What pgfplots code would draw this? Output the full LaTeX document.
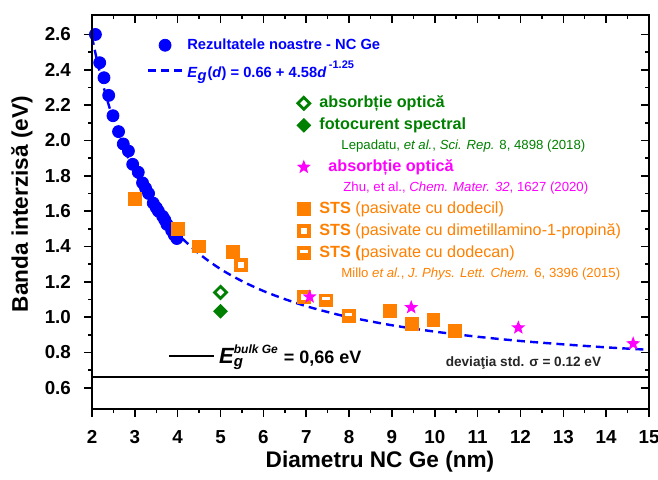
\documentclass[border=0pt]{standalone}
\usepackage{pgfplots}
\pgfplotsset{compat=1.18}
\usepackage{fontspec}
\setmainfont{Liberation Sans}
\definecolor{myblue}{RGB}{0,0,255}
\definecolor{myorange}{RGB}{255,128,0}
\definecolor{mygreen}{RGB}{0,128,0}
\definecolor{mymag}{RGB}{255,0,255}

\pgfdeclareplotmark{halfsq}{%
  \pgfpathrectangle{\pgfqpoint{-\pgfplotmarksize}{-\pgfplotmarksize}}{\pgfqpoint{2\pgfplotmarksize}{2\pgfplotmarksize}}%
  \pgfusepathqfillstroke
  \begin{pgfscope}%
  \pgfsetfillcolor{white}%
  \pgfpathrectangle{\pgfqpoint{-0.6\pgfplotmarksize}{0.05\pgfplotmarksize}}{\pgfqpoint{1.2\pgfplotmarksize}{0.4\pgfplotmarksize}}%
  \pgfusepathqfill
  \end{pgfscope}%
}
\pgfdeclareplotmark{fstar}{%
  \pgfpathmoveto{\pgfqpointpolar{90}{\pgfplotmarksize}}%
  \pgfpathlineto{\pgfqpointpolar{126}{0.42\pgfplotmarksize}}%
  \pgfpathlineto{\pgfqpointpolar{162}{\pgfplotmarksize}}%
  \pgfpathlineto{\pgfqpointpolar{198}{0.42\pgfplotmarksize}}%
  \pgfpathlineto{\pgfqpointpolar{234}{\pgfplotmarksize}}%
  \pgfpathlineto{\pgfqpointpolar{270}{0.42\pgfplotmarksize}}%
  \pgfpathlineto{\pgfqpointpolar{306}{\pgfplotmarksize}}%
  \pgfpathlineto{\pgfqpointpolar{342}{0.42\pgfplotmarksize}}%
  \pgfpathlineto{\pgfqpointpolar{18}{\pgfplotmarksize}}%
  \pgfpathlineto{\pgfqpointpolar{54}{0.42\pgfplotmarksize}}%
  \pgfpathclose
  \pgfusepathqfill
}

\pgfplotsset{
  base/.style={width=278.5pt, height=197pt, scale only axis,
    xmin=2, xmax=15, ymin=0.48, ymax=2.71},
  mleg/.style={legend image code/.code={%
    \draw[mark repeat=2,mark phase=2,##1] plot coordinates {(0cm,0cm) (0.3cm,0cm) (0.6cm,0cm)};}},
  mleg2/.style={legend image code/.code={%
    \path[draw=none, fill=none] (-3.3pt,-0.1pt) rectangle (5.8pt,0.1pt);
    \draw[##1] plot coordinates {(0pt,0pt)};}},
  bulkleg/.style={legend image code/.code={\draw[##1] (0pt,0pt) -- (22.5pt,0pt);}},
}

\begin{document}
\begin{tikzpicture}
% ---------- main axis: blue data and fit ----------
\begin{axis}[base,
  xtick={2,3,4,5,6,7,8,9,10,11,12,13,14,15},
  ytick={0.6,0.8,1.0,1.2,1.4,1.6,1.8,2.0,2.2,2.4,2.6},
  minor x tick num=1, minor y tick num=1,
  tick align=outside, xtick pos=bottom, ytick pos=left,
  major tick length=4pt, minor tick length=2pt,
  axis line style={line width=0.75pt},
  every tick/.style={black, line width=0.75pt},
  ticklabel style={font=\fontsize{9.4}{10}\selectfont\bfseries},
  xticklabel style={yshift=-3pt},
  /pgf/number format/assume math mode=true,
  yticklabel style={xshift=-3pt, /pgf/number format/.cd, fixed, fixed zerofill, precision=1},
  xlabel={Diametru NC Ge (nm)},
  ylabel={Banda interzisă (eV)},
  label style={font=\fontsize{11.3}{13}\selectfont\bfseries},
  xlabel style={at={(rel axis cs:0.517,0)}, anchor=center, yshift=-26.5pt},
  ylabel style={at={(rel axis cs:0,0.52)}, anchor=center, yshift=35pt},
  legend cell align=left,
  legend style={at={(axis cs:3.13,2.625)}, anchor=north west, draw=none, fill=none,
    font=\fontsize{7.35}{9}\selectfont\bfseries, text=myblue, row sep=0.2pt},
]
\coordinate (SW) at (rel axis cs:0,0);
\coordinate (NE) at (rel axis cs:1,1);
\addplot[myblue, line width=1.2pt, dash pattern=on 4pt off 2.6pt, smooth, forget plot] coordinates {
(2,2.586)(2.1,2.472)(2.2,2.369)(2.3,2.277)(2.4,2.193)(2.5,2.117)(2.6,2.047)(2.8,1.925)(3,1.820)(3.25,1.709)
(3.5,1.617)(3.75,1.538)(4,1.470)(4.5,1.359)(5,1.272)(5.5,1.204)(6,1.148)(6.5,1.102)
(7,1.062)(7.5,1.029)(8,1.000)(9,0.954)(10,0.918)(11,0.889)(12,0.865)(13,0.846)(14,0.829)(15,0.815)};
\addplot[only marks, mark=*, mark size=3pt, myblue, mleg] coordinates {
(2.08,2.60)(2.18,2.44)(2.28,2.355)(2.39,2.255)(2.49,2.14)(2.62,2.05)(2.73,1.98)(2.85,1.94)
(2.95,1.865)(3.08,1.82)(3.18,1.76)(3.25,1.73)(3.32,1.70)(3.43,1.645)(3.5,1.62)(3.55,1.60)
(3.65,1.57)(3.70,1.55)(3.75,1.525)(3.86,1.49)(3.92,1.465)(3.98,1.445)};
\addlegendentry{Rezultatele noastre - NC Ge}
\addlegendimage{myblue, line width=1.2pt, dash pattern=on 4pt off 2.6pt}
\addlegendentry{\textit{E}$_{\textit{g}}$(\textit{d}) = 0.66 + 4.58\textit{d}\,\raisebox{1.2ex}{\fontsize{5.5}{6}\selectfont -1.25}}
\end{axis}

% ---------- literature data ----------
\begin{axis}[base, hide axis,
  legend cell align=left,
  legend style={at={(axis cs:6.63,2.30)}, anchor=north west, draw=none, fill=none,
    font=\fontsize{8.1}{9.5}\selectfont\bfseries, row sep=-0.4pt},
]
\addplot[only marks, mark=square*, mark size=3.2pt, myorange, forget plot] coordinates {
(3.0,1.67)(4.0,1.50)(4.5,1.40)(5.29,1.37)(8.96,1.035)(9.47,0.962)(9.97,0.986)(10.47,0.924)};
\addplot[only marks, mark=square, mark size=2.5pt, line width=1.9pt, myorange, mark options={fill=white}, forget plot] coordinates {
(5.48,1.295)(6.94,1.115)};
\addplot[only marks, mark=halfsq, mark size=3.2pt, myorange, forget plot] coordinates {
(7.46,1.095)(7.99,1.005)};
\addplot[only marks, mark=square, mark size=2.1pt, line width=1.4pt, mygreen, mark options={rotate=45, fill=white}, forget plot] coordinates {(5.0,1.14)};
\addplot[only marks, mark=square*, mark size=2.4pt, mygreen, mark options={rotate=45}, forget plot] coordinates {(5.0,1.033)};
\addplot[only marks, mark=fstar, mark size=3.7pt, mymag, forget plot] coordinates {
(7.08,1.115)(9.45,1.055)(11.95,0.94)(14.63,0.85)};

\addlegendimage{only marks, mark=square, mark size=2.1pt, line width=1.4pt, mygreen, mark options={rotate=45, fill=white}, mleg2}
\addlegendentry{\textcolor{mygreen}{absorbție optică}}
\addlegendimage{only marks, mark=square*, mark size=2.4pt, mygreen, mark options={rotate=45}, mleg2}
\addlegendentry{\textcolor{mygreen}{fotocurent spectral}}
\addlegendimage{empty legend}
\addlegendentry{\hspace{11pt}\textcolor{mygreen}{\fontsize{6.6}{8}\selectfont\mdseries Lepadatu, \textit{et al.}, \textit{Sci. Rep.} 8, 4898 (2018)}}
\addlegendimage{only marks, mark=fstar, mark size=3.7pt, mymag, mleg2}
\addlegendentry{\hspace{4.5pt}\textcolor{mymag}{absorbție optică}}
\addlegendimage{empty legend}
\addlegendentry{\hspace{12pt}\textcolor{mymag}{\fontsize{6.6}{8}\selectfont\mdseries Zhu, et al., \textit{Chem. Mater. 32}, 1627 (2020)}}
\addlegendimage{only marks, mark=square*, mark size=3.2pt, myorange, mleg2}
\addlegendentry{\textcolor{myorange}{STS \mdseries(pasivate cu dodecil)}}
\addlegendimage{only marks, mark=square, mark size=2.5pt, line width=1.9pt, myorange, mark options={fill=white}, mleg2}
\addlegendentry{\textcolor{myorange}{STS \mdseries(pasivate cu dimetillamino-1-propină)}}
\addlegendimage{only marks, mark=halfsq, mark size=3.2pt, myorange, mleg2}
\addlegendentry{\textcolor{myorange}{STS (\mdseries pasivate cu dodecan)}}
\addlegendimage{empty legend}
\addlegendentry{\hspace{11pt}\textcolor{myorange}{\fontsize{6.6}{8}\selectfont\mdseries Millo \textit{et al.}, \textit{J. Phys. Lett. Chem.} 6, 3396 (2015)}}
\end{axis}

% ---------- bulk line, top/right ticks ----------
\begin{axis}[base,
  xtick={2,3,4,5,6,7,8,9,10,11,12,13,14,15},
  ytick={0.6,0.8,1.0,1.2,1.4,1.6,1.8,2.0,2.2,2.4,2.6},
  minor x tick num=1, minor y tick num=1,
  tick align=inside, xtick pos=top, ytick pos=right,
  xticklabels={}, yticklabels={},
  major tick length=4pt, minor tick length=2pt,
  axis line style={line width=0.75pt},
  every tick/.style={black, line width=0.75pt},
  legend style={at={(axis cs:3.63,0.781)}, anchor=west, draw=none, fill=none,
    font=\fontsize{9}{11}\selectfont\bfseries},
]
\addplot[black, line width=1pt, forget plot] coordinates {(2,0.66)(15,0.66)};
\addlegendimage{black, line width=1pt, bulkleg}
\addlegendentry{$\hbox{\fontsize{11}{12}\selectfont\bfseries\itshape E}^{\hbox{\fontsize{6}{7}\selectfont\bfseries\itshape bulk Ge}}_{\hbox{\fontsize{7.5}{8}\selectfont\bfseries\itshape g}}$ = 0,66 eV}
\node[font=\fontsize{6.8}{8}\selectfont\bfseries, text=black!85] at (axis cs:12.07,0.741) {deviaţia std. σ = 0.12 eV};
\end{axis}
\pgfresetboundingbox
\path ([xshift=-46pt,yshift=-35pt]SW) rectangle ([xshift=4.5pt,yshift=7.5pt]NE);
\end{tikzpicture}
\end{document}
